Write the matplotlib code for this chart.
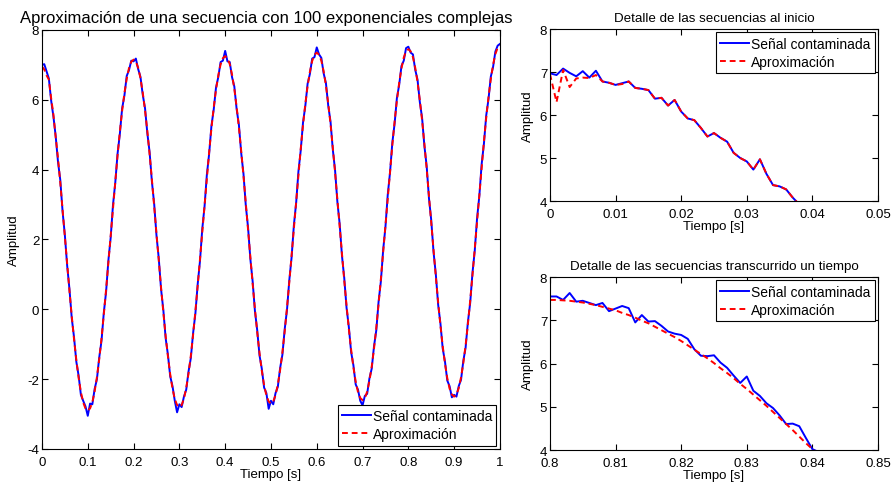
import numpy as np
import matplotlib
matplotlib.use("Agg")
import matplotlib.pyplot as plt
from matplotlib.ticker import FuncFormatter

plt.rcParams['font.family'] = ['Liberation Sans', 'DejaVu Sans']

# main plot: samples every 5 ms, 0 .. 1 s
t_main = np.arange(201) * 0.005
signal_main = [
    7.00, 7.02, 6.82, 6.61, 5.98, 5.52, 4.95, 4.22, 3.70, 2.80,
    2.12, 1.25, 0.58, -0.25, -0.80, -1.50, -1.90, -2.45, -2.62, -2.78,
    -3.05, -2.70, -2.72, -2.28, -2.00, -1.38, -0.90, -0.10, 0.50, 1.40,
    2.05, 2.98, 3.62, 4.45, 5.02, 5.75, 6.12, 6.68, 6.85, 7.12,
    7.10, 7.18, 6.88, 6.66, 6.15, 5.76, 5.05, 4.50, 3.66, 3.02,
    2.12, 1.46, 0.58, -0.02, -0.82, -1.30, -1.92, -2.20, -2.62, -2.95,
    -2.72, -2.80, -2.50, -2.30, -1.78, -1.40, -0.68, -0.12, 0.72, 1.38,
    2.30, 2.95, 3.85, 4.45, 5.25, 5.72, 6.35, 6.65, 7.08, 7.12,
    7.40, 7.10, 7.08, 6.65, 6.38, 5.74, 5.28, 4.48, 3.88, 2.98,
    2.34, 1.44, 0.80, -0.05, -0.60, -1.32, -1.70, -2.24, -2.40, -2.85,
    -2.62, -2.72, -2.40, -2.22, -1.68, -1.30, -0.57, -0.02, 0.83, 1.48,
    2.40, 3.05, 3.95, 4.55, 5.35, 5.82, 6.46, 6.74, 7.18, 7.22,
    7.50, 7.30, 7.20, 6.76, 6.48, 5.84, 5.38, 4.58, 3.98, 3.08,
    2.45, 1.54, 0.90, 0.05, -0.50, -1.22, -1.60, -2.15, -2.30, -2.62,
    -2.75, -2.48, -2.42, -1.98, -1.70, -1.06, -0.60, 0.22, 0.80, 1.70,
    2.36, 3.28, 3.92, 4.77, 5.32, 6.05, 6.43, 6.97, 7.12, 7.48,
    7.52, 7.35, 7.30, 6.86, 6.58, 5.94, 5.48, 4.68, 4.10, 3.18,
    2.55, 1.64, 1.00, 0.14, -0.40, -1.12, -1.50, -2.04, -2.20, -2.52,
    -2.45, -2.50, -2.20, -2.02, -1.48, -1.10, -0.37, 0.18, 1.04, 1.68,
    2.60, 3.25, 4.15, 4.74, 5.55, 6.02, 6.66, 6.94, 7.38, 7.55,
    7.60]
approx_main = [
    6.95, 6.87, 6.70, 6.58, 6.05, 5.57, 4.92, 4.33, 3.62, 2.85,
    2.08, 1.30, 0.53, -0.19, -0.86, -1.45, -1.96, -2.37, -2.67, -2.84,
    -2.90, -2.84, -2.66, -2.35, -1.94, -1.43, -0.83, -0.15, 0.57, 1.34,
    2.13, 2.91, 3.68, 4.40, 5.08, 5.68, 6.19, 6.60, 6.91, 7.09,
    7.15, 7.09, 6.92, 6.62, 6.21, 5.70, 5.11, 4.44, 3.72, 2.95,
    2.18, 1.40, 0.63, -0.09, -0.76, -1.35, -1.86, -2.27, -2.57, -2.74,
    -2.80, -2.74, -2.56, -2.25, -1.84, -1.33, -0.73, -0.05, 0.67, 1.44,
    2.23, 3.01, 3.78, 4.50, 5.18, 5.78, 6.29, 6.70, 7.01, 7.19,
    7.25, 7.19, 7.02, 6.72, 6.31, 5.80, 5.21, 4.54, 3.82, 3.05,
    2.28, 1.50, 0.73, 0.01, -0.66, -1.25, -1.76, -2.17, -2.47, -2.64,
    -2.70, -2.64, -2.46, -2.15, -1.74, -1.23, -0.63, 0.05, 0.77, 1.54,
    2.33, 3.11, 3.88, 4.60, 5.28, 5.88, 6.39, 6.80, 7.11, 7.29,
    7.35, 7.29, 7.12, 6.82, 6.41, 5.90, 5.31, 4.64, 3.92, 3.15,
    2.38, 1.60, 0.83, 0.11, -0.56, -1.15, -1.66, -2.07, -2.37, -2.54,
    -2.60, -2.54, -2.36, -2.05, -1.64, -1.13, -0.53, 0.15, 0.87, 1.64,
    2.43, 3.21, 3.98, 4.70, 5.38, 5.98, 6.49, 6.90, 7.21, 7.39,
    7.45, 7.39, 7.22, 6.92, 6.51, 6.00, 5.41, 4.74, 4.02, 3.25,
    2.48, 1.70, 0.93, 0.21, -0.46, -1.05, -1.56, -1.97, -2.27, -2.44,
    -2.50, -2.44, -2.26, -1.95, -1.54, -1.03, -0.43, 0.25, 0.97, 1.74,
    2.53, 3.31, 4.08, 4.80, 5.48, 6.08, 6.59, 7.00, 7.31, 7.49,
    7.55]

# detail at the start: samples every 1 ms
t_start = np.arange(39) * 0.001
signal_start = [
    6.97, 6.93, 7.08, 6.98, 6.90, 7.02, 6.87, 7.03, 6.78, 6.75,
    6.70, 6.74, 6.78, 6.63, 6.61, 6.58, 6.38, 6.40, 6.22, 6.35,
    6.08, 5.92, 5.88, 5.70, 5.50, 5.58, 5.47, 5.38, 5.12, 5.00,
    4.92, 4.73, 4.97, 4.63, 4.37, 4.34, 4.27, 4.08, 3.92]
approx_start = [
    6.95, 6.30, 7.05, 6.65, 6.85, 6.87, 6.86, 6.93, 6.78, 6.75,
    6.70, 6.72, 6.78, 6.63, 6.61, 6.58, 6.38, 6.40, 6.22, 6.35,
    6.08, 5.92, 5.88, 5.70, 5.50, 5.58, 5.47, 5.38, 5.12, 5.00,
    4.92, 4.73, 4.97, 4.63, 4.37, 4.34, 4.27, 4.08, 3.92]

# detail after some time: samples every 1 ms from 0.8 s
t_later = 0.8 + np.arange(42) * 0.001
signal_later = [
    7.55, 7.55, 7.47, 7.63, 7.43, 7.45, 7.40, 7.35, 7.40, 7.21,
    7.27, 7.33, 7.28, 6.95, 7.12, 6.97, 6.98, 6.87, 6.74, 6.69,
    6.66, 6.57, 6.33, 6.18, 6.17, 6.19, 6.02, 5.90, 5.72, 5.55,
    5.70, 5.37, 5.25, 5.08, 4.97, 4.80, 4.60, 4.61, 4.55, 4.28,
    4.02, 3.95]
approx_later = [
    7.47, 7.47, 7.46, 7.45, 7.43, 7.41, 7.38, 7.35, 7.31, 7.27,
    7.23, 7.17, 7.12, 7.06, 6.99, 6.93, 6.85, 6.77, 6.69, 6.61,
    6.52, 6.42, 6.32, 6.22, 6.12, 6.01, 5.89, 5.78, 5.66, 5.53,
    5.41, 5.28, 5.15, 5.02, 4.88, 4.74, 4.60, 4.46, 4.31, 4.16,
    4.02, 3.87]

fmt = FuncFormatter(lambda v, p: "%g" % round(v, 6))


def style_axes(ax):
    ax.tick_params(direction='in', top=True, right=True, length=4,
                   width=0.8, labelsize=9.5)
    ax.tick_params(axis='x', pad=5)
    ax.tick_params(axis='y', pad=2)
    for s in ax.spines.values():
        s.set_linewidth(0.8)
    ax.xaxis.set_major_formatter(fmt)
    ax.yaxis.set_major_formatter(fmt)


def draw(ax, t, sig, app, legend_loc):
    ax.plot(t, sig, color='blue', linewidth=1.4, label="Señal contaminada")
    ax.plot(t, app, color='red', linewidth=1.4, linestyle='--',
            dashes=(3, 2), label="Aproximación")
    leg = ax.legend(loc=legend_loc, fontsize=10, fancybox=False,
                    framealpha=1, borderpad=0.3, labelspacing=0.3,
                    handlelength=2.1, handletextpad=0.15,
                    borderaxespad=0.25)
    leg.get_frame().set_edgecolor('black')
    leg.get_frame().set_linewidth(0.8)


fig = plt.figure(figsize=(8.95, 4.85), dpi=100)

ax1 = fig.add_axes([0.0469, 0.0722, 0.5117, 0.864])
draw(ax1, t_main, signal_main, approx_main, 'lower right')
ax1.set_xlim(0, 1)
ax1.set_ylim(-4, 8)
ax1.set_xticks(np.arange(0, 1.01, 0.1))
ax1.set_yticks(np.arange(-4, 8.1, 2))
style_axes(ax1)
ax1.set_title("Aproximación de una secuencia con 100 exponenciales complejas",
              fontsize=12, pad=6, x=0.49)
ax1.set_xlabel("Tiempo [s]", fontsize=9.5, labelpad=0)
ax1.set_ylabel("Amplitud", fontsize=9.5, labelpad=5)

ax2 = fig.add_axes([0.6145, 0.5835, 0.3665, 0.3546])
draw(ax2, t_start, signal_start, approx_start, 'upper right')
ax2.set_xlim(0, 0.05)
ax2.set_ylim(4, 8)
ax2.set_xticks(np.arange(0, 0.051, 0.01))
ax2.set_yticks(np.arange(4, 8.1, 1))
style_axes(ax2)
ax2.set_title("Detalle de las secuencias al inicio", fontsize=9.6, pad=6)
ax2.set_xlabel("Tiempo [s]", fontsize=9.5, labelpad=0)
ax2.set_ylabel("Amplitud", fontsize=9.5, labelpad=4)

ax3 = fig.add_axes([0.6145, 0.0701, 0.3665, 0.3567])
draw(ax3, t_later, signal_later, approx_later, 'upper right')
ax3.set_xlim(0.8, 0.85)
ax3.set_ylim(4, 8)
ax3.set_xticks(np.arange(0.8, 0.851, 0.01))
ax3.set_yticks(np.arange(4, 8.1, 1))
style_axes(ax3)
ax3.set_title("Detalle de las secuencias transcurrido un tiempo",
              fontsize=9.6, pad=6)
ax3.set_xlabel("Tiempo [s]", fontsize=9.5, labelpad=0)
ax3.set_ylabel("Amplitud", fontsize=9.5, labelpad=4)

plt.savefig("out.png", dpi=100)
